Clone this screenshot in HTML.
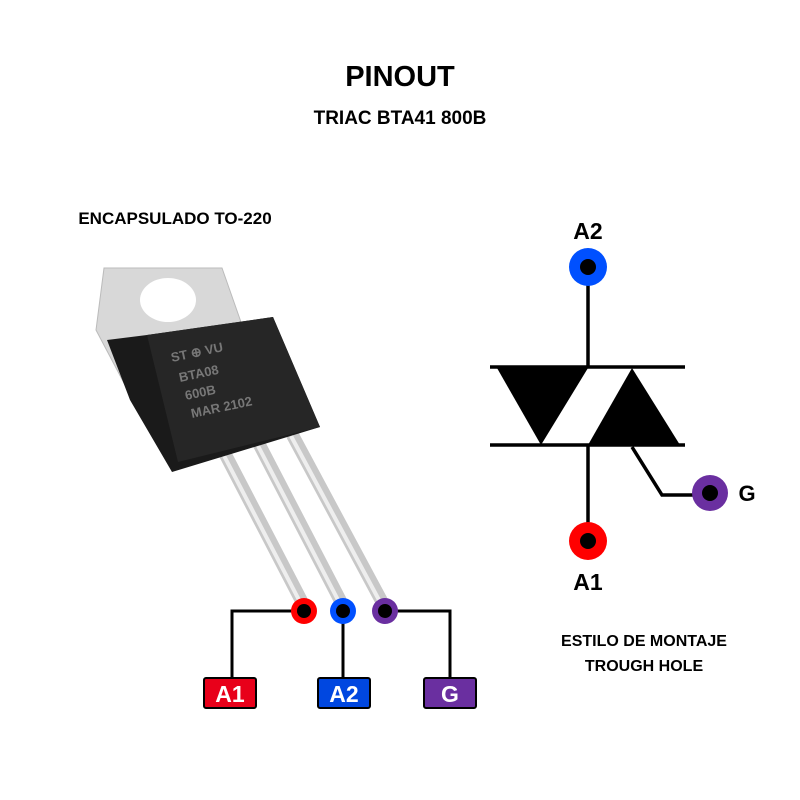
<!DOCTYPE html>
<html><head><meta charset="utf-8"><style>
body{margin:0;background:#fff;}
svg{display:block}
text{font-family:"Liberation Sans",sans-serif;font-weight:bold}
</style></head><body>
<svg width="800" height="800" viewBox="0 0 800 800">
<text x="400" y="86" text-anchor="middle" font-size="29">PINOUT</text>
<text x="400" y="124" text-anchor="middle" font-size="19">TRIAC BTA41 800B</text>
<text x="175" y="224" text-anchor="middle" font-size="17">ENCAPSULADO TO-220</text>
<!-- tab -->
<polygon points="104,268 222,268 242,325 125,385 96,330" fill="#d8d8d8" stroke="#bbb"/>
<ellipse cx="168" cy="300" rx="28" ry="22" fill="#fff"/>
<!-- leads -->
<g stroke="#c8c8c8" stroke-width="13" stroke-linecap="round">
<line x1="222" y1="448" x2="301" y2="600"/>
<line x1="258" y1="442" x2="340" y2="600"/>
<line x1="293" y1="436" x2="381" y2="600"/>
</g>
<g stroke="#eee" stroke-width="4">
<line x1="220" y1="448" x2="299" y2="600"/>
<line x1="256" y1="442" x2="338" y2="600"/>
<line x1="291" y1="436" x2="379" y2="600"/>
</g>
<!-- body -->
<polygon points="107,340 147,335 273,317 320,427 172,472 130,400" fill="#1a1a1a"/>
<polygon points="147,335 273,317 320,427 178,462" fill="#262626"/>
<g fill="#777" font-size="13" font-family="Liberation Mono" font-weight="normal">
<text x="172" y="362" transform="rotate(-12 172 362)">ST  ⊕ VU</text>
<text x="180" y="382" transform="rotate(-12 180 382)">BTA08</text>
<text x="186" y="400" transform="rotate(-12 186 400)">600B</text>
<text x="192" y="418" transform="rotate(-12 192 418)">MAR  2102</text>
</g>
<!-- pin connectors -->
<g stroke="#000" stroke-width="3" fill="none">
<polyline points="304,611 232,611 232,680"/>
<line x1="343" y1="611" x2="343" y2="680"/>
<polyline points="385,611 450,611 450,680"/>
</g>
<circle cx="304" cy="611" r="13" fill="#f00"/><circle cx="304" cy="611" r="7" fill="#000"/>
<circle cx="343" cy="611" r="13" fill="#0050ff"/><circle cx="343" cy="611" r="7" fill="#000"/>
<circle cx="385" cy="611" r="13" fill="#6a2fa0"/><circle cx="385" cy="611" r="7" fill="#000"/>
<rect x="204" y="678" width="52" height="30" rx="2" fill="#e8001a" stroke="#000" stroke-width="2"/>
<rect x="318" y="678" width="52" height="30" rx="2" fill="#0047e0" stroke="#000" stroke-width="2"/>
<rect x="424" y="678" width="52" height="30" rx="2" fill="#6a2fa0" stroke="#000" stroke-width="2"/>
<g fill="#fff" font-size="23" text-anchor="middle">
<text x="230" y="702">A1</text><text x="344" y="702">A2</text><text x="450" y="702">G</text>
</g>
<!-- symbol -->
<text x="588" y="239" text-anchor="middle" font-size="23">A2</text>
<g stroke="#000" stroke-width="3.5" fill="none">
<line x1="588" y1="280" x2="588" y2="368"/>
<line x1="588" y1="445" x2="588" y2="530"/>
<line x1="490" y1="367" x2="685" y2="367"/>
<line x1="490" y1="445" x2="685" y2="445"/>
<polyline points="632,447 662,495 700,495"/>
</g>
<polygon points="497,368 588,368 541,445" fill="#000"/>
<polygon points="632,368 680,445 588,445" fill="#000"/>
<circle cx="588" cy="267" r="19" fill="#0050ff"/><circle cx="588" cy="267" r="8" fill="#000"/>
<circle cx="710" cy="493" r="18" fill="#6a2fa0"/><circle cx="710" cy="493" r="8" fill="#000"/>
<circle cx="588" cy="541" r="19" fill="#f00"/><circle cx="588" cy="541" r="8" fill="#000"/>
<text x="588" y="590" text-anchor="middle" font-size="23">A1</text>
<text x="747" y="501" text-anchor="middle" font-size="22">G</text>
<text x="644" y="646" text-anchor="middle" font-size="16">ESTILO DE MONTAJE</text>
<text x="644" y="671" text-anchor="middle" font-size="16">TROUGH HOLE</text>
</svg>
</body></html>
